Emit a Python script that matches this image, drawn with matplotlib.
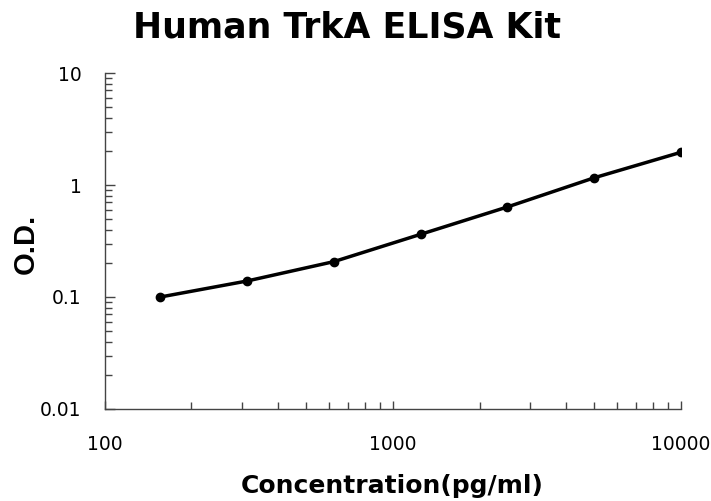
import matplotlib
matplotlib.use("Agg")
import matplotlib.pyplot as plt
import matplotlib.ticker as tick

# standard curve points
concentration = [156.25, 312.5, 625, 1250, 2500, 5000, 10000]
od = [0.100, 0.139, 0.207, 0.363, 0.637, 1.16, 1.96]

x_ticks = [100, 1000, 10000]
x_tick_labels = ["100", "1000", "10000"]
y_ticks = [0.01, 0.1, 1, 10]
y_tick_labels = ["0.01", "0.1", "1", "10"]

W, H = 711, 501
fig = plt.figure(figsize=(W / 100, H / 100), dpi=100)
ax = fig.add_axes([104.5 / W, 1 - 409 / H, (681 - 104.5) / W, (409 - 73) / H])

ax.plot(concentration, od, color="black", linewidth=2.5, marker="o", markersize=6)

ax.set_xscale("log")
ax.set_yscale("log")
ax.set_xlim(100, 10000)
ax.set_ylim(0.01, 10)

ax.xaxis.set_major_locator(tick.FixedLocator(x_ticks))
ax.xaxis.set_major_formatter(tick.FixedFormatter(x_tick_labels))
ax.yaxis.set_major_locator(tick.FixedLocator(y_ticks))
ax.yaxis.set_major_formatter(tick.FixedFormatter(y_tick_labels))
ax.xaxis.set_minor_locator(tick.LogLocator(base=10, subs=range(2, 10)))
ax.yaxis.set_minor_locator(tick.LogLocator(base=10, subs=range(2, 10)))
ax.xaxis.set_minor_formatter(tick.NullFormatter())
ax.yaxis.set_minor_formatter(tick.NullFormatter())

for side in ["top", "right"]:
    ax.spines[side].set_visible(False)
for side in ["left", "bottom"]:
    ax.spines[side].set_color("#444444")
    ax.spines[side].set_linewidth(1.0)

ax.tick_params(axis="both", which="both", direction="in", color="#444444", width=1.0)
ax.tick_params(axis="y", which="major", length=7, pad=16.5, labelsize=13.5)
ax.tick_params(axis="y", which="minor", length=5)
ax.tick_params(axis="x", which="major", length=6, pad=19, labelsize=13.5)
ax.tick_params(axis="x", which="minor", length=5)

fig.text(392 / W, 1 - 493 / H, "Concentration(pg/ml)", fontsize=18, fontweight="bold",
         family="DejaVu Sans", ha="center", va="baseline")
fig.text(25.5 / W, 1 - 243.5 / H, "O.D.", fontsize=21, fontweight="bold",
         family="Liberation Sans", ha="center", va="center", rotation=90)
fig.text(347 / W, 1 - 38 / H, "Human TrkA ELISA Kit", fontsize=25, fontweight="bold",
         family="DejaVu Sans", ha="center", va="baseline")

fig.savefig("out.png", dpi=100)
